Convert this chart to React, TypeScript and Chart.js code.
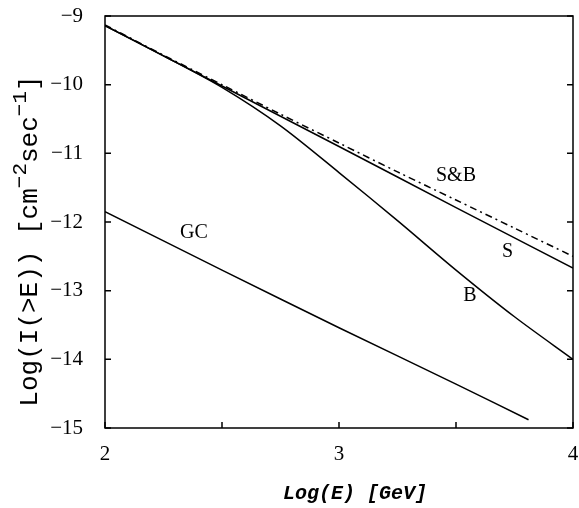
import React, { useEffect, useRef } from "react";
import { Chart, registerables } from "chart.js";

Chart.register(...registerables);

// ---- data ----
const xS = [2, 2.5, 3, 3.5, 4];
const yS = [-9.14, -10.02, -10.9, -11.79, -12.67];

const xB = [2, 2.25, 2.5, 2.75, 3, 3.25, 3.5, 3.75, 4];
const yB = [-9.14, -9.58, -10.04, -10.6, -11.28, -11.98, -12.7, -13.38, -14.0];

const xSB = [2, 2.25, 2.5, 2.75, 3, 3.25, 3.5, 3.75, 4];
const ySB = [-9.13, -9.57, -10.0, -10.43, -10.85, -11.27, -11.68, -12.09, -12.5];

const xGC = [2, 2.5, 3, 3.5, 3.81];
const yGC = [-11.85, -12.7, -13.54, -14.36, -14.88];

const curveLabels = ["S&B", "GC", "S", "B"];
const curveLabelX = [3.5, 2.38, 3.72, 3.56];
const curveLabelY = [-11.32, -12.16, -12.44, -13.08];

const xMin = 2;
const xMax = 4;
const xStep = 0.5;
const yMin = -15;
const yMax = -9;
const yStep = 1;

const xTitle = "Log(E) [GeV]";
const yTitleParts = [
  { text: "Log(I(>E)) [cm", sup: false },
  { text: "\u22122", sup: true },
  { text: "sec", sup: false },
  { text: "\u22121", sup: true },
  { text: "]", sup: false },
];

const toPts = (xs: number[], ys: number[]) => xs.map((x, i) => ({ x, y: ys[i] }));

const framePlugin = {
  id: "frameAndText",
  afterDraw(chart: any) {
    const { ctx, chartArea, scales } = chart;
    const { left, right, top, bottom } = chartArea;
    const xs = scales.x;
    const ys = scales.y;
    ctx.save();
    ctx.strokeStyle = "#000";
    ctx.lineWidth = 1.5;
    ctx.strokeRect(left, top, right - left, bottom - top);
    ctx.beginPath();
    xs.ticks.forEach((t: any) => {
      const px = xs.getPixelForValue(t.value);
      ctx.moveTo(px, bottom);
      ctx.lineTo(px, bottom - 6);
    });
    ys.ticks.forEach((t: any) => {
      const py = ys.getPixelForValue(t.value);
      ctx.moveTo(left, py);
      ctx.lineTo(left + 6, py);
      ctx.moveTo(right, py);
      ctx.lineTo(right - 6, py);
    });
    ctx.stroke();

    // curve labels
    ctx.fillStyle = "#000";
    ctx.font = "20px 'Liberation Serif', serif";
    ctx.textAlign = "center";
    ctx.textBaseline = "middle";
    curveLabels.forEach((lab, i) => {
      ctx.fillText(lab, xs.getPixelForValue(curveLabelX[i]), ys.getPixelForValue(curveLabelY[i]));
    });

    // x title
    ctx.font = "italic bold 20px 'Liberation Mono', monospace";
    ctx.textAlign = "center";
    ctx.textBaseline = "alphabetic";
    ctx.fillText(xTitle, (left + right) / 2 + 16, 499);

    // y title with superscripts
    const mainFont = "26px 'Liberation Mono', monospace";
    const supFont = "21px 'Liberation Mono', monospace";
    ctx.translate(37, 241);
    ctx.rotate(-Math.PI / 2);
    let total = 0;
    yTitleParts.forEach((p) => {
      ctx.font = p.sup ? supFont : mainFont;
      total += ctx.measureText(p.text).width;
    });
    let cx = -total / 2;
    ctx.textAlign = "left";
    ctx.textBaseline = "alphabetic";
    yTitleParts.forEach((p) => {
      ctx.font = p.sup ? supFont : mainFont;
      ctx.fillText(p.text, cx, p.sup ? -11 : 0);
      cx += ctx.measureText(p.text).width;
    });
    ctx.restore();
  },
};

const zeroPad = (s: any) => {
  s.paddingLeft = 0;
  s.paddingRight = 0;
  s.paddingTop = 0;
  s.paddingBottom = 0;
};

export default function App() {
  const ref = useRef<HTMLCanvasElement | null>(null);
  useEffect(() => {
    document.body.style.margin = "0";
    const canvas = ref.current;
    if (!canvas) return;
    const line = (data: any, dash: number[] = []) => ({
      data,
      borderColor: "#000",
      backgroundColor: "#000",
      borderWidth: 1.5,
      borderDash: dash,
      pointRadius: 0,
      fill: false,
      tension: 0.3,
    });
    const chart = new Chart(canvas, {
      type: "line",
      data: {
        datasets: [
          { label: "S", ...line(toPts(xS, yS)) },
          { label: "B", ...line(toPts(xB, yB)) },
          { label: "S&B", ...line(toPts(xSB, ySB), [7, 4, 2, 4]) },
          { label: "GC", ...line(toPts(xGC, yGC)) },
        ],
      },
      options: {
        animation: false,
        responsive: false,
        layout: { padding: { top: 16, right: 6, left: 0, bottom: 0 } },
        plugins: { legend: { display: false }, tooltip: { enabled: false } },
        scales: {
          x: {
            type: "linear",
            min: xMin,
            max: xMax,
            grid: { display: false },
            border: { display: false },
            ticks: {
              stepSize: xStep,
              color: "#000",
              font: { family: "'Liberation Serif', serif", size: 21 },
              padding: 6,
              maxRotation: 0,
              autoSkip: false,
              callback: (v: any) => (Number.isInteger(v) ? String(v) : ""),
            },
            afterFit: (s: any) => {
              s.height = 80;
              zeroPad(s);
            },
          },
          y: {
            type: "linear",
            min: yMin,
            max: yMax,
            grid: { display: false },
            border: { display: false },
            ticks: {
              stepSize: yStep,
              color: "#000",
              font: { family: "'Liberation Serif', serif", size: 21 },
              padding: 14,
              callback: (v: any) => (v < 0 ? "\u2212" + Math.abs(v) : String(v)),
            },
            afterFit: (s: any) => {
              s.width = 105;
              zeroPad(s);
            },
          },
        },
      },
      plugins: [framePlugin],
    });
    return () => chart.destroy();
  }, []);
  return (
    <canvas
      ref={ref}
      width={579}
      height={508}
      style={{ display: "block", width: 579, height: 508 }}
    />
  );
}
